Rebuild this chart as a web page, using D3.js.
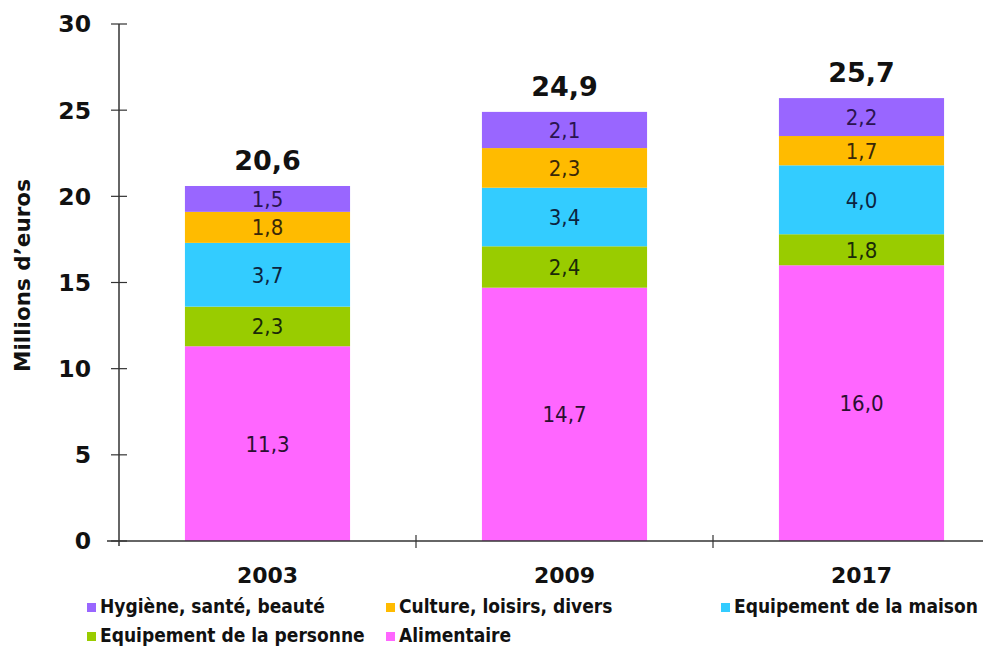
<!DOCTYPE html>
<html>
<head>
<meta charset="utf-8">
<script src="https://cdn.jsdelivr.net/npm/d3@7"></script>
<style>
  html, body { margin: 0; padding: 0; background: #fff; }
  svg { display: block; }
</style>
</head>
<body>
<svg id="chart" width="983" height="648"></svg>
<script>
const categories = ["2003", "2009", "2017"];
const seriesNames = ["Alimentaire", "Equipement de la personne", "Equipement de la maison", "Culture, loisirs, divers", "Hygiène, santé, beauté"];
const alimentaire = [11.3, 14.7, 16.0];
const equipPersonne = [2.3, 2.4, 1.8];
const equipMaison = [3.7, 3.4, 4.0];
const culture = [1.8, 2.3, 1.7];
const hygiene = [1.5, 2.1, 2.2];
const totals = [20.6, 24.9, 25.7];
const yTicks = [0, 5, 10, 15, 20, 25, 30];
const legendOrder = ["Hygiène, santé, beauté", "Culture, loisirs, divers", "Equipement de la maison", "Equipement de la personne", "Alimentaire"];

const seriesValues = [alimentaire, equipPersonne, equipMaison, culture, hygiene];
const colors = {
  "Alimentaire": "#ff66ff",
  "Equipement de la personne": "#99cc00",
  "Equipement de la maison": "#33ccff",
  "Culture, loisirs, divers": "#ffbb00",
  "Hygiène, santé, beauté": "#9966ff"
};
const labelColors = {
  "Alimentaire": "#2a1030",
  "Equipement de la personne": "#1a2a08",
  "Equipement de la maison": "#0c2440",
  "Culture, loisirs, divers": "#3a2808",
  "Hygiène, santé, beauté": "#2a1450"
};

const table = categories.map((c, i) => {
  const row = { cat: c };
  seriesNames.forEach((s, k) => row[s] = seriesValues[k][i]);
  return row;
});
const stacked = d3.stack().keys(seriesNames)(table);

const svg = d3.select("#chart");
const fontB = "'DejaVu Sans', sans-serif";
const fontC = "'DejaVu Sans Condensed', 'DejaVu Sans', sans-serif";

const y = d3.scaleLinear().domain([0, 30]).range([541, 24]);
const x = d3.scaleBand().domain(categories).range([119, 1010]).paddingInner(0.444).paddingOuter(0.222);

// bars
const layers = svg.append("g").selectAll("g").data(stacked).join("g")
  .attr("fill", d => colors[d.key]);
layers.selectAll("rect").data(d => d).join("rect")
  .attr("x", d => x(d.data.cat))
  .attr("width", x.bandwidth())
  .attr("y", d => y(d[1]))
  .attr("height", d => y(d[0]) - y(d[1]));

// segment labels
const fmt = v => v.toFixed(1).replace(".", ",");
stacked.forEach(layer => {
  svg.append("g").selectAll("text").data(layer).join("text")
    .attr("x", d => x(d.data.cat) + x.bandwidth() / 2)
    .attr("y", d => (y(d[0]) + y(d[1])) / 2)
    .attr("dy", "0.36em")
    .attr("text-anchor", "middle")
    .attr("font-family", fontC)
    .attr("font-size", 22)
    .attr("fill", labelColors[layer.key])
    .text(d => fmt(d[1] - d[0]));
});

// totals
svg.append("g").selectAll("text").data(categories).join("text")
  .attr("x", c => x(c) + x.bandwidth() / 2)
  .attr("y", (c, i) => y(totals[i]) - 16)
  .attr("text-anchor", "middle")
  .attr("font-family", fontB)
  .attr("font-weight", "bold")
  .attr("font-size", 27)
  .attr("fill", "#111")
  .text((c, i) => fmt(totals[i]));

// y axis
const yAxis = svg.append("g");
yAxis.append("line").attr("x1", 119).attr("x2", 119).attr("y1", y(30)).attr("y2", y(0) + 5)
  .attr("stroke", "#333").attr("stroke-width", 1.5);
yAxis.selectAll("line.t").data(yTicks).join("line").attr("class", "t")
  .attr("x1", 111).attr("x2", 127).attr("y1", d => y(d)).attr("y2", d => y(d))
  .attr("stroke", "#333").attr("stroke-width", 1.2);
yAxis.selectAll("text").data(yTicks).join("text")
  .attr("x", 91).attr("y", d => y(d)).attr("dy", "0.36em")
  .attr("text-anchor", "end")
  .attr("font-family", fontB).attr("font-weight", "bold").attr("font-size", 23.5)
  .attr("fill", "#111")
  .text(d => d);

svg.append("text")
  .attr("transform", "translate(30," + (y(15) - 7) + ") rotate(-90)")
  .attr("text-anchor", "middle")
  .attr("font-family", fontB).attr("font-weight", "bold").attr("font-size", 21.5)
  .attr("fill", "#111")
  .text("Millions d’euros");

// x axis
const xAxis = svg.append("g");
xAxis.append("line").attr("x1", 107).attr("x2", 1010).attr("y1", y(0)).attr("y2", y(0))
  .attr("stroke", "#333").attr("stroke-width", 1.5);
const bounds = categories.slice(1).map(c => x(c) - x.step() * x.paddingInner() / 2);
xAxis.selectAll("line.t").data(bounds).join("line").attr("class", "t")
  .attr("x1", d => d).attr("x2", d => d).attr("y1", y(0) - 6).attr("y2", y(0) + 7)
  .attr("stroke", "#333").attr("stroke-width", 1.2);
xAxis.selectAll("text").data(categories).join("text")
  .attr("x", c => x(c) + x.bandwidth() / 2)
  .attr("y", 583)
  .attr("text-anchor", "middle")
  .attr("font-family", fontB).attr("font-weight", "bold").attr("font-size", 22)
  .attr("fill", "#111")
  .text(c => c);

// legend
const legendPos = [[87, 613], [386, 613], [721, 613], [87, 642], [386, 642]];
const lg = svg.append("g").selectAll("g").data(legendOrder).join("g")
  .attr("transform", (d, i) => "translate(" + legendPos[i][0] + "," + legendPos[i][1] + ")");
lg.append("rect").attr("x", 0).attr("y", -10).attr("width", 9).attr("height", 9)
  .attr("fill", d => colors[d]);
lg.append("text").attr("x", 13).attr("y", 0)
  .attr("font-family", fontC).attr("font-weight", "bold").attr("font-size", 19)
  .attr("fill", "#111")
  .text(d => d);
</script>
</body>
</html>
